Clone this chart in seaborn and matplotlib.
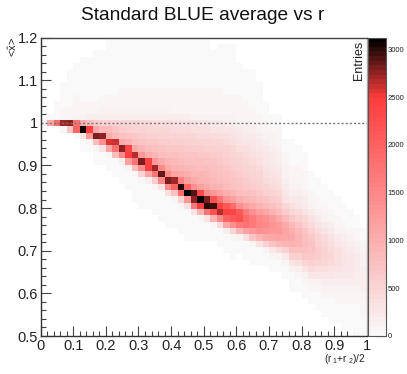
import matplotlib
matplotlib.use('Agg')
import matplotlib.pyplot as plt
from matplotlib.colors import LinearSegmentedColormap
import seaborn as sns
import numpy as np

sns.set_theme(style='white')
plt.rcParams['font.family'] = ['Liberation Sans', 'DejaVu Sans']
plt.rcParams['mathtext.fontset'] = 'custom'
plt.rcParams['mathtext.rm'] = 'Liberation Sans'
plt.rcParams['mathtext.it'] = 'Liberation Sans'

title = "Standard BLUE average vs r"
x_ticks = [0, 0.1, 0.2, 0.3, 0.4, 0.5, 0.6, 0.7, 0.8, 0.9, 1]
x_labels = ["0", "0.1", "0.2", "0.3", "0.4", "0.5", "0.6", "0.7", "0.8", "0.9", "1"]
y_ticks = [0.5, 0.6, 0.7, 0.8, 0.9, 1, 1.1, 1.2]
y_labels = ["0.5", "0.6", "0.7", "0.8", "0.9", "1", "1.1", "1.2"]
cbar_ticks = [0, 500, 1000, 1500, 2000, 2500, 3000]
max_entries = 3125
n_rows = 47

# first filled row (counted from the top) of every column
col_start = [13, 12, 10, 7, 5, 4, 3, 3, 2, 2, 0, 0, 0, 0, 0, 0, 0, 0, 0, 0, 0, 0, 0, 0, 0,
             0, 2, 1, 1, 1, 4, 5, 5, 7, 10, 12, 12, 16, 16, 17, 18, 21, 22, 23, 24, 25, 26, 27, 28, 30]

# entries per column, going down from col_start
col_values = [
    [60],
    [30, 1100],
    [30, 30, 40, 1900],
    [30, 30, 30, 40, 50, 70, 2700, 60],
    [30, 30, 30, 30, 40, 40, 50, 90, 2750, 700],
    [30, 30, 30, 30, 40, 50, 60, 80, 120, 1800, 2000, 40],
    [30, 30, 30, 30, 30, 30, 40, 50, 70, 130, 1000, 3050, 300, 40, 30],
    [30, 30, 30, 30, 30, 40, 40, 50, 80, 150, 800, 2450, 1300, 50, 30],
    [30, 30, 30, 30, 30, 30, 40, 40, 60, 90, 170, 600, 1100, 2800, 800, 50, 30, 30],
    [30, 30, 30, 30, 30, 30, 40, 50, 60, 100, 170, 520, 850, 2750, 1400, 300, 40, 30],
    [30, 30, 30, 30, 30, 30, 30, 40, 40, 50, 60, 100, 180, 500, 850, 1050, 2550, 1100, 60, 40, 30],
    [30, 30, 30, 30, 30, 30, 40, 40, 40, 50, 70, 110, 180, 500, 700, 850, 2600, 1800, 800, 40, 30, 30],
    [30, 30, 30, 30, 30, 40, 40, 40, 50, 50, 70, 110, 190, 480, 620, 780, 1050, 2750, 1500, 150, 40, 30, 30],
    [30, 30, 30, 30, 30, 40, 40, 40, 50, 60, 70, 100, 180, 450, 580, 700, 950, 2350, 2450, 1200, 100, 30, 30, 30],
    [30, 30, 30, 30, 30, 40, 40, 40, 50, 60, 70, 100, 170, 440, 520, 640, 760, 1050, 2650, 1800, 800, 60, 30, 30, 30, 30],
    [30, 30, 30, 30, 30, 40, 40, 40, 50, 60, 70, 100, 170, 400, 520, 600, 720, 880, 1300, 2800, 1500, 500, 50, 30, 30, 30, 30],
    [30, 30, 30, 30, 30, 40, 40, 40, 50, 60, 70, 100, 170, 400, 480, 560, 680, 800, 1000, 2400, 2400, 1100, 150, 30, 30, 30, 30],
    [30, 30, 30, 30, 30, 40, 40, 40, 50, 60, 70, 100, 160, 380, 480, 560, 640, 760, 900, 1300, 2700, 1800, 600, 50, 30, 30, 30, 30],
    [30, 30, 30, 30, 30, 40, 40, 40, 50, 60, 70, 100, 160, 360, 460, 520, 600, 720, 800, 1050, 1500, 2850, 1500, 300, 40, 30, 30, 30, 30],
    [30, 30, 30, 30, 30, 40, 40, 40, 50, 60, 70, 100, 160, 360, 440, 520, 600, 680, 760, 880, 1050, 1500, 2800, 1500, 350, 40, 30, 30, 30, 30],
    [30, 30, 30, 30, 30, 40, 40, 40, 50, 60, 70, 90, 150, 340, 420, 500, 580, 660, 740, 840, 950, 1150, 2700, 2000, 700, 60, 30, 30, 30, 30],
    [30, 30, 30, 30, 30, 40, 40, 40, 50, 60, 70, 90, 150, 320, 400, 480, 560, 640, 720, 800, 900, 1050, 1600, 3000, 1900, 500, 50, 30, 30, 30, 30],
    [30, 30, 30, 30, 30, 40, 40, 40, 50, 60, 70, 90, 150, 320, 400, 460, 540, 620, 700, 780, 860, 1000, 1200, 2000, 3080, 1300, 350, 40, 30, 30, 30, 30],
    [30, 30, 30, 30, 30, 40, 40, 40, 50, 60, 70, 90, 140, 300, 380, 450, 530, 610, 690, 770, 840, 920, 1050, 1400, 2900, 2750, 1700, 300, 40, 30, 30, 30],
    [30, 30, 30, 30, 30, 40, 40, 40, 50, 60, 70, 90, 140, 280, 370, 430, 510, 590, 670, 750, 820, 880, 950, 1200, 2300, 3125, 2450, 900, 60, 30, 30, 30],
    [30, 30, 30, 30, 30, 40, 40, 40, 50, 60, 70, 90, 140, 260, 350, 420, 500, 580, 660, 720, 800, 840, 900, 1050, 1500, 2800, 3000, 1800, 300, 30, 30, 30],
    [30, 30, 30, 30, 40, 40, 50, 60, 70, 90, 140, 240, 340, 400, 480, 560, 620, 690, 760, 800, 850, 950, 1300, 2200, 2950, 2200, 900, 60, 30, 30],
    [30, 30, 30, 30, 30, 40, 40, 50, 60, 70, 90, 140, 220, 320, 380, 460, 530, 590, 660, 720, 760, 800, 880, 1150, 1800, 2400, 2650, 1500, 400, 40, 30, 30],
    [30, 30, 30, 30, 30, 40, 40, 40, 50, 70, 80, 120, 190, 290, 350, 420, 500, 560, 620, 680, 720, 760, 820, 1000, 1350, 2100, 2400, 2000, 1100, 150, 30, 30, 30],
    [30, 30, 30, 30, 30, 30, 40, 40, 50, 60, 70, 110, 160, 260, 320, 380, 450, 510, 560, 620, 660, 720, 780, 920, 1200, 1900, 2350, 2100, 1400, 500, 50, 30, 30, 30],
    [30, 30, 30, 40, 40, 50, 60, 70, 90, 130, 210, 270, 330, 390, 450, 500, 550, 600, 650, 700, 800, 1000, 1400, 2100, 2200, 1700, 900, 100, 30, 30],
    [30, 30, 30, 40, 40, 50, 60, 80, 110, 180, 240, 290, 350, 410, 460, 510, 560, 610, 660, 750, 900, 1200, 1700, 1900, 1800, 1150, 350, 40, 30, 30],
    [30, 30, 30, 30, 40, 40, 50, 60, 90, 150, 200, 260, 310, 360, 410, 460, 510, 560, 610, 700, 840, 1050, 1400, 1700, 1700, 1300, 700, 90, 30, 30, 30],
    [30, 30, 30, 40, 40, 50, 70, 120, 170, 220, 270, 310, 360, 410, 460, 510, 560, 640, 760, 950, 1200, 1500, 1550, 1400, 950, 300, 40, 30, 30],
    [30, 30, 40, 50, 90, 130, 170, 210, 250, 290, 330, 380, 430, 500, 580, 700, 850, 1100, 1400, 1500, 1350, 1050, 550, 100, 30, 30],
    [30, 40, 70, 100, 130, 160, 200, 240, 280, 320, 370, 430, 510, 620, 750, 950, 1250, 1350, 1300, 1100, 700, 250, 50, 30, 30],
    [30, 40, 50, 70, 90, 120, 150, 180, 210, 250, 300, 360, 440, 540, 650, 800, 1050, 1250, 1300, 1150, 850, 400, 100, 30, 30],
    [30, 40, 60, 80, 110, 140, 170, 210, 270, 340, 460, 620, 850, 1050, 1150, 1100, 900, 550, 200, 50, 30, 30],
    [30, 30, 30, 40, 50, 70, 90, 120, 170, 240, 350, 480, 680, 850, 1000, 1050, 950, 750, 550, 300, 120, 40, 30, 30],
    [30, 30, 40, 50, 60, 80, 110, 150, 200, 280, 400, 560, 720, 850, 900, 880, 750, 580, 380, 180, 70, 30, 30],
    [30, 30, 40, 50, 70, 90, 130, 170, 220, 310, 440, 580, 700, 780, 800, 760, 640, 500, 320, 140, 50, 30, 30],
    [30, 30, 40, 60, 90, 140, 210, 310, 430, 560, 650, 720, 720, 680, 560, 430, 270, 130, 60, 30, 30],
    [30, 30, 40, 60, 90, 140, 210, 300, 420, 500, 570, 620, 600, 500, 370, 250, 130, 60, 30, 30, 30],
    [30, 30, 40, 60, 90, 140, 220, 320, 400, 470, 520, 530, 450, 350, 260, 170, 100, 50, 30, 30, 30],
    [30, 30, 40, 60, 90, 150, 230, 310, 370, 420, 440, 400, 330, 260, 180, 120, 70, 40, 30, 30, 30],
    [30, 30, 40, 50, 80, 140, 220, 290, 350, 380, 360, 300, 240, 190, 130, 90, 50, 30, 30, 30],
    [30, 30, 40, 60, 100, 170, 240, 290, 320, 320, 290, 240, 190, 130, 90, 60, 40, 30, 30, 30],
    [30, 30, 40, 70, 120, 180, 230, 260, 280, 260, 220, 180, 130, 90, 60, 40, 30, 30, 30],
    [30, 30, 50, 80, 120, 170, 210, 230, 220, 190, 160, 120, 90, 60, 40, 30, 30, 30, 30],
    [30, 40, 50, 70, 100, 130, 160, 180, 170, 150, 120, 90, 70, 50, 40, 30, 30],
]

# Fill the 2D histogram
grid = np.zeros((n_rows, len(col_values)))
for c, vals in enumerate(col_values):
    grid[col_start[c]:col_start[c] + len(vals), c] = vals

palette = LinearSegmentedColormap.from_list(
    'white_red_black', [(0, '#f9f9f9'), (0.8, '#ff3c3c'), (1, '#000000')], N=64)

W, H = 407, 374
fig = plt.figure(figsize=(W / 100, H / 100), dpi=100)
ax = fig.add_axes([40.5 / W, 1 - 336 / H, 326.5 / W, 298.5 / H])
cax = fig.add_axes([368 / W, 1 - 336 / H, 18 / W, 298.5 / H])

sns.heatmap(grid, mask=grid == 0, cmap=palette, vmin=0, vmax=max_entries, ax=ax, cbar_ax=cax,
            xticklabels=False, yticklabels=False)


# Value to heatmap cell coordinates
def x_pos(v):
    return np.asarray(v) * grid.shape[1]


def y_pos(v):
    return (1.2 - np.asarray(v)) / 0.7 * n_rows


ax.set_xticks(x_pos(x_ticks))
ax.set_xticklabels(x_labels, fontsize=10.5, color='#222222')
ax.set_yticks(y_pos(y_ticks))
ax.set_yticklabels(y_labels, fontsize=10.5, color='#222222', rotation=0)
ax.set_xticks(x_pos(np.arange(0, 1.001, 0.02)), minor=True)
ax.set_yticks(y_pos(np.arange(0.5, 1.201, 0.02)), minor=True)
ax.tick_params(axis='x', which='major', direction='in', length=7, width=0.8, color='#444444', pad=2, bottom=True)
ax.tick_params(axis='x', which='minor', direction='in', length=3.5, width=0.8, color='#444444', bottom=True)
ax.tick_params(axis='y', which='major', direction='in', length=7, width=0.8, color='#444444', pad=2, left=True)
ax.tick_params(axis='y', which='minor', direction='in', length=3.5, width=0.8, color='#444444', left=True)

for side, col in [('left', '#333333'), ('bottom', '#333333'), ('top', '#444444'), ('right', '#aaaaaa')]:
    ax.spines[side].set_visible(True)
    ax.spines[side].set_color(col)
    ax.spines[side].set_linewidth(1.0)

ax.axhline(y_pos(1), color='#777777', lw=1, ls=(0, (1.5, 1.5)))

# Colour bar
cbar = ax.collections[0].colorbar
cbar.set_ticks(cbar_ticks)
cax.tick_params(axis='y', which='both', direction='in', length=6.5, width=0.8, color='#444444',
                labelsize=5.5, labelcolor='#222222', pad=1, right=True)
cbar.outline.set_visible(True)
cbar.outline.set_edgecolor('#555555')
cbar.outline.set_linewidth(0.8)

fig.text(203 / W, 1 - 16 / H, title, fontsize=13.8, color='#111111', ha='center', va='center')
fig.text(365 / W, 1 - 41 / H, "Entries", fontsize=9, color='#222222', rotation=90, ha='right', va='top',
         zorder=5)
fig.text(13 / W, 1 - 47 / H, r"<$\hat{x}$>", fontsize=8, color='#222222', rotation=90, ha='center', va='center')
fig.text(366 / W, 1 - 359 / H, r"(r$_{\ 1}$+r$_{\ 2}$)/2", fontsize=7.2, color='#222222', ha='right', va='center')

fig.savefig('out.png', dpi=100)
plt.close(fig)
